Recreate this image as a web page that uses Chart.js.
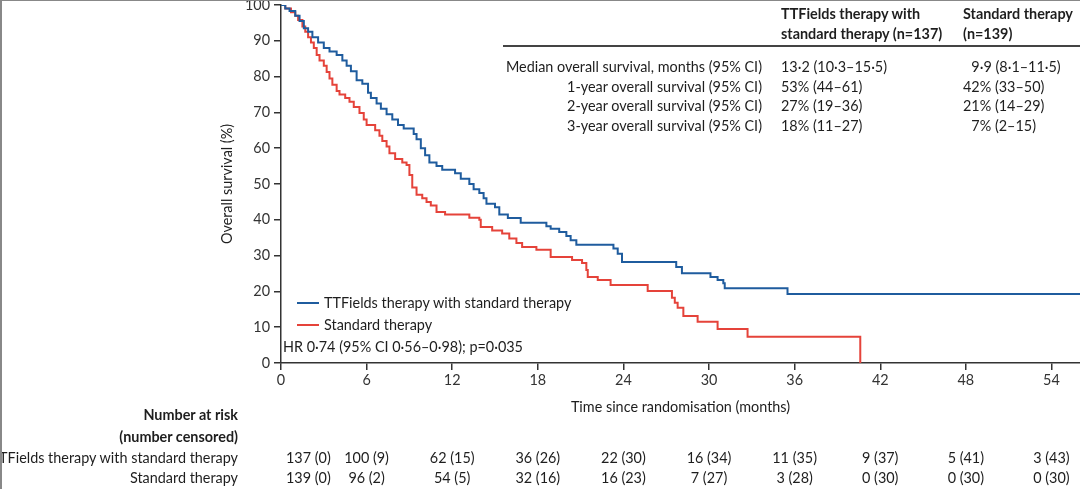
<!DOCTYPE html>
<html>
<head>
<meta charset="utf-8">
<script src="https://cdn.jsdelivr.net/npm/chart.js@4.4.0/dist/chart.umd.min.js"></script>
<style>
    body { margin: 0; background: #fff; }
    #wrap { position: relative; width: 1080px; height: 489px; overflow: hidden; font-family: Lato, sans-serif; color: #1e1e1e; }
    #wrap canvas { position: absolute; left: 0; top: 0; }
    .t { position: absolute; font-size: 14.4px; line-height: 18px; white-space: nowrap; transform: translateY(-50%); }
    .r { text-align: right; }
    .b { font-weight: 700; }
    .line { position: absolute; height: 2px; }
</style>
</head>
<body>
<div id="wrap">
    <canvas id="KmChart" width="1080" height="489"></canvas>
    <div id="overlay"></div>
</div>
<script>
const BLUE = '#1f5c9e';
const RED = '#e5433a';

// Kaplan-Meier steps (months, % surviving)
const ttfTime = [0, 0.3, 0.6, 1.0, 1.3, 1.6, 1.9, 2.2, 2.6, 3.0, 3.4, 3.9, 4.3, 4.6, 4.9, 5.3, 5.7, 6.1, 6.3, 6.7,
    7.0, 7.4, 7.8, 8.2, 8.6, 9.3, 9.5, 9.8, 10.1, 10.4, 10.9, 11.3, 12.2, 12.6, 13.2, 13.5, 13.9, 14.2, 14.4, 15.0,
    15.3, 15.9, 16.8, 18.6, 18.9, 19.5, 20.0, 20.3, 20.7, 23.3, 23.6, 23.9, 27.7, 28.1, 30.1, 30.6, 31.0, 31.1, 35.5, 56];
const ttfSurv = [100, 99, 98.3, 97, 95.5, 93.5, 92.5, 91, 89.5, 88, 87, 86, 84.5, 83, 81.5, 79, 78, 75.5, 74, 72.5,
    71, 69.5, 68, 66.5, 65.5, 64, 62.5, 60, 58, 56, 55, 54, 53, 51.5, 50, 48.5, 47.5, 46, 44.5, 43.5,
    41.5, 40.5, 39.2, 38.2, 37.5, 36.6, 35.5, 34.3, 33, 32, 30.5, 28.2, 26.8, 25.1, 24, 23.2, 22.3, 20.9, 19.3, 19.3];

const stdTime = [0, 0.3, 0.7, 1.0, 1.2, 1.5, 1.7, 1.9, 2.1, 2.3, 2.5, 2.7, 3.0, 3.2, 3.4, 3.6, 3.9, 4.1, 4.5, 4.8,
    5.1, 5.5, 5.8, 6.0, 6.6, 6.9, 7.1, 7.4, 7.6, 8.0, 8.5, 8.8, 9.0, 9.2, 9.5, 9.9, 10.2, 10.5, 10.9, 11.5,
    13.2, 13.9, 14.0, 14.8, 15.5, 16.0, 16.5, 16.9, 17.9, 18.9, 20.4, 21.1, 21.4, 21.5, 22.2, 23.1, 25.7, 27.4, 27.6, 27.8,
    28.2, 29.2, 30.6, 32.7, 40.6];
const stdSurv = [100, 99, 98, 97, 95.8, 94, 92.5, 91, 89.5, 88, 86, 84.5, 83, 81.3, 79.5, 77.7, 76, 75, 74, 73,
    71.5, 69.8, 68, 66.5, 65, 63.5, 62, 60.5, 58.6, 57, 56, 55.3, 52.5, 49, 47, 46, 45, 44, 42.2, 41.5,
    40.6, 40, 38, 37, 36.2, 34.8, 33.5, 32.4, 31.6, 29.6, 28.8, 27.9, 26, 24, 23.2, 21.8, 20.1, 18.2, 16.8, 15.4,
    13.1, 11.5, 9.5, 7.3, 0];

const seriesNames = ['TTFields therapy with standard therapy', 'Standard therapy'];
const hrText = 'HR 0·74 (95% CI 0·56–0·98); p=0·035';

// number at risk (number censored) at each 6-month tick
const riskMonths = [0, 6, 12, 18, 24, 30, 36, 42, 48, 54];
const ttfRisk = ['137 (0)', '100 (9)', '62 (15)', '36 (26)', '22 (30)', '16 (34)', '11 (35)', '9 (37)', '5 (41)', '3 (43)'];
const stdRisk = ['139 (0)', '96 (2)', '54 (5)', '32 (16)', '16 (23)', '7 (27)', '3 (28)', '0 (30)', '0 (30)', '0 (30)'];

// summary table
const tableHead1 = ['TTFields therapy with', 'standard therapy (n=137)'];
const tableHead2 = ['Standard therapy', '(n=139)'];
const tableRows = ['Median overall survival, months (95% CI)', '1-year overall survival (95% CI)',
    '2-year overall survival (95% CI)', '3-year overall survival (95% CI)'];
const tableTtf = ['13·2 (10·3–15·5)', '53% (44–61)', '27% (19–36)', '18% (11–27)'];
const tableStd = ['\u20079·9 (8·1–11·5)', '42% (33–50)', '21% (14–29)', '\u20077% (2–15)'];

const toPoints = (xs, ys) => xs.map((x, i) => ({ x: x, y: ys[i] }));

const overlay = document.getElementById('overlay');
const addText = (text, x, y, cls, extra) => {
    var d = document.createElement('div');
    d.className = 't ' + (cls || '');
    d.textContent = text;
    d.style.top = y + 'px';
    if (cls && cls.indexOf('r') >= 0) {
        d.style.right = (1080 - x) + 'px';
    } else {
        d.style.left = x + 'px';
    }
    if (extra) Object.assign(d.style, extra);
    overlay.appendChild(d);
    return d;
}
const addLine = (x, y, w, color, h) => {
    var d = document.createElement('div');
    d.className = 'line';
    d.style.left = x + 'px';
    d.style.top = y + 'px';
    d.style.width = w + 'px';
    d.style.height = (h || 2) + 'px';
    d.style.background = color;
    overlay.appendChild(d);
}

const axisColor = '#333';
const tickFont = { family: 'Lato', size: 14.4 };

const config = {
    type: 'line',
    data: {
        datasets: [
            {
                label: seriesNames[0],
                data: toPoints(ttfTime, ttfSurv),
                borderColor: BLUE,
                backgroundColor: BLUE,
                borderWidth: 2,
                pointRadius: 0,
                stepped: true,
            },
            {
                label: seriesNames[1],
                data: toPoints(stdTime, stdSurv),
                borderColor: RED,
                backgroundColor: RED,
                borderWidth: 2,
                pointRadius: 0,
                stepped: true,
            }
        ]
    },
    options: {
        responsive: false,
        animation: false,
        layout: { padding: 0 },
        plugins: { legend: { display: false }, tooltip: { enabled: false } },
        scales: {
            x: {
                type: 'linear',
                min: 0,
                max: 56,
                ticks: { stepSize: 6, color: '#333', font: tickFont, padding: 2 },
                afterBuildTicks: (s) => { s.ticks = s.ticks.filter(t => t.value % 6 === 0); },
                afterFit: (s) => { s.height = 126; s.paddingRight = 0; },
                grid: { drawOnChartArea: false, drawTicks: true, tickLength: 7, color: axisColor, lineWidth: 1.5 },
                border: { display: true, color: axisColor, width: 1.5 },
                title: {
                    display: true, text: 'Time since randomisation (months)', color: '#1e1e1e',
                    font: { family: 'Lato', size: 14.4 }, padding: { top: 4, bottom: 73 }
                }
            },
            y: {
                min: 0,
                max: 100,
                ticks: { stepSize: 10, color: '#333', font: tickFont, padding: 4 },
                afterFit: (s) => { s.width = 281; s.paddingTop = 5; s.paddingBottom = 0; },
                grid: { drawOnChartArea: false, drawTicks: true, tickLength: 7, color: axisColor, lineWidth: 1.5 },
                border: { display: true, color: axisColor, width: 1.5 },
                title: {
                    display: true, text: 'Overall survival (%)', color: '#1e1e1e',
                    font: { family: 'Lato', size: 14.4 }, padding: { top: 219, bottom: 0 }
                }
            }
        }
    }
};

const chart = new Chart(document.getElementById('KmChart'), config);

// in-plot legend and hazard ratio
addLine(297, 302, 22, BLUE);
addText(seriesNames[0], 324, 303);
addLine(297, 324, 22, RED);
addText(seriesNames[1], 324, 325);
addText(hrText, 283, 347);

// summary table, top right
addText(tableHead1[0], 781, 14, 'b');
addText(tableHead1[1], 781, 34, 'b');
addText(tableHead2[0], 963, 14, 'b');
addText(tableHead2[1], 963, 34, 'b');
addLine(503, 45, 577, '#444', 2);
tableRows.forEach((label, i) => {
    var y = 67 + i * 19.5;
    addText(label, 762, y, 'r');
    addText(tableTtf[i], 781, y);
    addText(tableStd[i], 963, y);
});

// number at risk table, lined up with the x scale
addText('Number at risk', 238, 415, 'r b');
addText('(number censored)', 238, 437, 'r b');
addText(seriesNames[0], 238, 458, 'r');
addText(seriesNames[1], 238, 478, 'r');
const xScale = chart.scales.x;
riskMonths.forEach((m, i) => {
    var px = xScale.getPixelForValue(m);
    var first = i === 0;
    var style = first ? {} : { transform: 'translate(-50%, -50%)' };
    addText(ttfRisk[i], first ? px + 5 : px, 458, '', style);
    addText(stdRisk[i], first ? px + 5 : px, 478, '', style);
});

// frame lines at the top and left edge
addLine(0, 0, 1080, '#888', 1);
var left = document.createElement('div');
left.style.cssText = 'position:absolute;left:0;top:0;width:2px;height:489px;background:#888';
overlay.appendChild(left);
</script>
</body>
</html>
